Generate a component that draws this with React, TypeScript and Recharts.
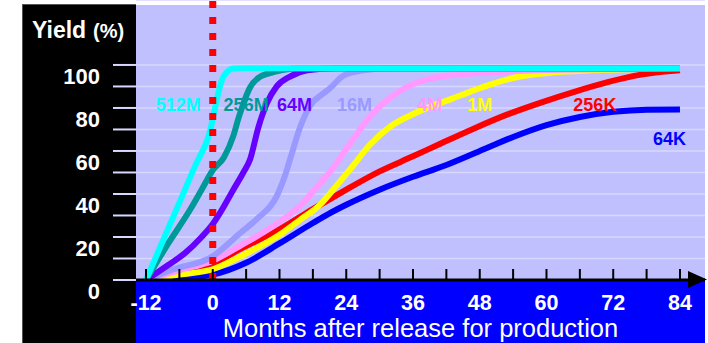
import {
  CartesianGrid,
  Line,
  LineChart,
  ReferenceDot,
  XAxis,
  YAxis,
} from "recharts";

const monthTicks = [-12, -6, 0, 6, 12, 18, 24, 30, 36, 42, 48, 54, 60, 66, 72, 78, 84];
const yieldTicks = [0, 10, 20, 30, 40, 50, 60, 70, 80, 90, 100];

// yield curves per DRAM generation: months after release -> yield %
const months512M = [-12, -6, -3, -1, -0.5, 0, 0.5, 1, 1.9, 3.7, 6, 84];
const yield512M = [0, 36, 54, 65, 69, 75, 81, 87, 94.5, 98.3, 98.5, 98.5];

const months256M = [-12, -8, -4, -2, 0, 2, 3.7, 4.6, 5.5, 6.7, 8.5, 11.5, 15, 84];
const yield256M = [0, 17, 33, 42, 51, 57, 67, 75, 82, 89.5, 94.5, 97, 98.3, 98.5];

const months64M = [-12, -8, -5, -2, 0, 1.5, 3.7, 5.5, 6.7, 8.2, 9.7, 11.5, 13.9, 17, 22, 84];
const yield64M = [0, 7, 12.5, 20, 26, 32, 42, 50, 56, 71, 82, 90, 94.6, 97.5, 98.5, 98.5];

const months16M = [-12, -7, 0, 5, 8, 11.5, 13.3, 14, 15.7, 17.5, 20, 21, 23.5, 27, 32, 84];
const yield16M = [0, 5, 11, 22, 28.5, 39, 51, 57, 71, 81, 87, 89, 95, 97.5, 98.5, 98.5];

const months4M = [-12, -6, 0, 5, 12, 15.7, 19.3, 21, 24.7, 28.3, 32, 35.5, 39, 43, 50, 58, 84];
const yield4M = [0, 4.5, 9, 16, 27, 34.5, 45, 50, 63.5, 76, 85, 90.5, 93.5, 95.3, 96.5, 97.5, 98.5];

const months1M = [-12, -6, 0, 5, 12, 15.7, 19.3, 21, 24.7, 28.3, 32, 35.5, 39, 42.7, 46.2, 50, 55, 61, 68, 84];
const yield1M = [0, 2.5, 5, 11, 21, 28, 35, 40, 51.5, 63, 71.5, 76.5, 80.5, 84, 87.5, 91, 94.5, 96.5, 97.5, 98.5];

const months256K = [-12, -6, 0, 5, 12, 18, 21, 24, 30, 36, 41, 47, 53, 59, 65, 71, 77, 84];
const yield256K = [0, 3.5, 7.5, 14.5, 23.5, 33, 37.5, 42, 50.5, 57.5, 63.5, 70.5, 77, 82.5, 87.5, 92, 95.5, 97.5];

const months64K = [-12, -6, 0, 6, 12, 18, 21, 24, 30, 36, 42, 48, 54, 60, 66, 72, 78, 84];
const yield64K = [0, 0.8, 2.5, 8, 17, 26.5, 31, 35, 42, 48, 53.5, 60, 66.5, 72, 75.8, 78.2, 79.2, 79.3];

// the release month, drawn as a dashed marker across the whole plot height
const releaseMonth = [
  { m: 0, y: 0 },
  { m: 0, y: 130.2 },
];

const toPoints = (ms: number[], ys: number[]) => ms.map((m, i) => ({ m, y: ys[i] }));

// drawn bottom to top: the fastest ramp sits over the others
const series = [
  { name: "64K", color: "#0000ff", data: toPoints(months64K, yield64K) },
  { name: "256K", color: "#ff0000", data: toPoints(months256K, yield256K) },
  { name: "1M", color: "#ffff00", data: toPoints(months1M, yield1M) },
  { name: "4M", color: "#ff99ff", data: toPoints(months4M, yield4M) },
  { name: "16M", color: "#9999ff", data: toPoints(months16M, yield16M) },
  { name: "64M", color: "#6600ff", data: toPoints(months64M, yield64M) },
  { name: "256M", color: "#009999", data: toPoints(months256M, yield256M) },
  { name: "512M", color: "#00ffff", data: toPoints(months512M, yield512M) },
];

// where each generation's name sits on the plot (month, yield)
const seriesLabels = [
  { text: "512M", color: "#00ffff", m: -6.2, y: 81.6 },
  { text: "256M", color: "#009999", m: 6, y: 81.6 },
  { text: "64M", color: "#6600ff", m: 14.7, y: 81.6 },
  { text: "16M", color: "#9999ff", m: 25.5, y: 81.6 },
  { text: "4M", color: "#ff99ff", m: 39, y: 81.6 },
  { text: "1M", color: "#ffff00", m: 48, y: 81.6 },
  { text: "256K", color: "#ff0000", m: 68.7, y: 81.4 },
  { text: "64K", color: "#0000ff", m: 82.1, y: 65.8 },
];

const FONT = '"Liberation Sans", Arial, sans-serif';

function MonthTick({ x, y, payload }: any) {
  const v = payload.value;
  return (
    <g>
      <line x1={x} x2={x} y1={y} y2={y - 11} stroke="#000" strokeWidth={2} />
      {v % 12 === 0 && (
        <text
          x={x}
          y={y + 29.5}
          textAnchor="middle"
          fill="#fff"
          fontSize={21.5}
          fontWeight="bold"
          fontFamily={FONT}
        >
          {v}
        </text>
      )}
    </g>
  );
}

function YieldTick({ x, y, payload }: any) {
  const v = payload.value;
  return (
    <g>
      <line x1={x - 23} x2={x} y1={y} y2={y} stroke="#d8d8ff" strokeWidth={2} />
      {v % 20 === 0 && (
        <text
          x={x - 36}
          y={y + 19}
          textAnchor="end"
          fill="#fff"
          fontSize={22}
          fontWeight="bold"
          fontFamily={FONT}
        >
          {v}
        </text>
      )}
    </g>
  );
}

export default function App() {
  return (
    <div
      style={{
        position: "absolute",
        left: 0,
        top: 0,
        width: 708,
        height: 343,
        fontFamily: FONT,
      }}
    >
      <div
        style={{
          position: "absolute",
          left: 22,
          top: 4,
          width: 113,
          height: 339,
          background: "#000",
          borderLeft: "1px solid #555",
          borderTop: "1px solid #555",
        }}
      />
      <div
        style={{
          position: "absolute",
          left: 136,
          top: 5,
          width: 569,
          height: 275,
          background: "#c0c0ff",
        }}
      />
      <div
        style={{
          position: "absolute",
          left: 136,
          top: 280,
          width: 569,
          height: 63,
          background: "#0000ff",
        }}
      />
      <svg
        width={708}
        height={343}
        style={{ position: "absolute", left: 0, top: 0 }}
      >
        <text x={32} y={37.5} fill="#fff" fontWeight="bold" fontSize={23} fontFamily={FONT}>
          Yield
          <tspan fontSize={20} dx={7}>
            (%)
          </tspan>
        </text>
      </svg>
      <LineChart
        width={708}
        height={343}
        margin={{ top: 0, right: 3, bottom: 0, left: 22 }}
        style={{ position: "absolute", left: 0, top: 0 }}
      >
        <CartesianGrid vertical={false} stroke="#d8d8ff" strokeWidth={1.5} />
        <XAxis
          dataKey="m"
          type="number"
          domain={[-13.8, 88.5]}
          ticks={monthTicks}
          interval={0}
          allowDataOverflow
          height={63}
          tickLine={false}
          tickSize={0}
          tickMargin={0}
          tick={<MonthTick />}
          axisLine={{ stroke: "#000", strokeWidth: 3 }}
          label={{
            value: "Months after release for production",
            position: "insideBottom",
            offset: 6,
            fill: "#fff",
            fontSize: 25.5,
            fontFamily: FONT,
          }}
        />
        <YAxis
          type="number"
          domain={[0, 130.2]}
          ticks={yieldTicks}
          interval={0}
          allowDataOverflow
          width={114}
          axisLine={false}
          tickLine={false}
          tickSize={0}
          tickMargin={0}
          tick={<YieldTick />}
        />
        {seriesLabels.map((l) => (
          <ReferenceDot
            key={l.text}
            x={l.m}
            y={l.y}
            r={0}
            fill="none"
            stroke="none"
            label={{
              value: l.text,
              position: "center",
              fill: l.color,
              fontSize: 18,
              fontWeight: "bold",
              fontFamily: FONT,
            }}
          />
        ))}
        {series.map((s) => (
          <Line
            key={s.name}
            data={s.data}
            dataKey="y"
            type="monotone"
            stroke={s.color}
            strokeWidth={6}
            dot={false}
            activeDot={false}
            isAnimationActive={false}
          />
        ))}
        <Line
          data={releaseMonth}
          dataKey="y"
          type="linear"
          stroke="#ff0000"
          strokeWidth={7}
          strokeDasharray="7 9"
          dot={false}
          activeDot={false}
          isAnimationActive={false}
        />
      </LineChart>
      <svg
        width={708}
        height={343}
        style={{ position: "absolute", left: 0, top: 0, pointerEvents: "none" }}
      >
        <polygon points="688,271 707,279.5 688,288" fill="#000" />
      </svg>
    </div>
  );
}
